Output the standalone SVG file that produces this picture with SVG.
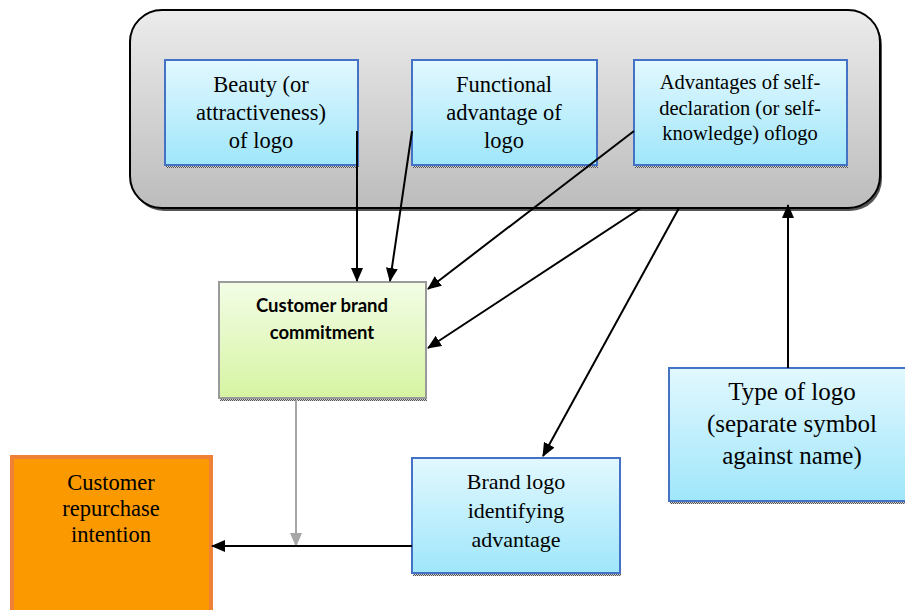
<svg xmlns="http://www.w3.org/2000/svg" width="905" height="610" viewBox="0 0 905 610">
  <defs>
    <linearGradient id="gGrey" x1="0" y1="0" x2="0" y2="1">
      <stop offset="0" stop-color="#ececec"/>
      <stop offset="1" stop-color="#bcbcbc"/>
    </linearGradient>
    <linearGradient id="gBlue" x1="0" y1="0" x2="0" y2="1">
      <stop offset="0" stop-color="#e2f8fe"/>
      <stop offset="1" stop-color="#9fe6fb"/>
    </linearGradient>
    <linearGradient id="gGreen" x1="0" y1="0" x2="0" y2="1">
      <stop offset="0" stop-color="#f3fde6"/>
      <stop offset="1" stop-color="#d6f4a2"/>
    </linearGradient>
    <pattern id="dots" width="2" height="2" patternUnits="userSpaceOnUse">
      <rect width="2" height="2" fill="#d0d0d0"/>
      <rect width="1" height="1" fill="#555"/>
      <rect x="1" y="1" width="1" height="1" fill="#555"/>
    </pattern>
    <marker id="ah" markerWidth="14" markerHeight="12" refX="13" refY="6" orient="auto" markerUnits="userSpaceOnUse">
      <path d="M0,0 L14,6 L0,12 Z" fill="#000"/>
    </marker>
    <marker id="ahGrey" markerWidth="14" markerHeight="12" refX="13" refY="6" orient="auto" markerUnits="userSpaceOnUse">
      <path d="M0,0 L14,6 L0,12 Z" fill="#a6a6a6"/>
    </marker>
  </defs>
  <style>
    .blue { fill: url(#gBlue); stroke: #4472c4; stroke-width: 2; }
    .shadow { fill: url(#dots); }
    .serif { font-family: "Liberation Serif", "Times New Roman", serif; fill: #000; text-anchor: middle; }
    .sans { font-family: Lato, "Open Sans", "Liberation Sans", sans-serif; font-weight: bold; fill: #000; text-anchor: middle; }
    .conn { stroke: #000; stroke-width: 2; fill: none; marker-end: url(#ah); }
    .connGrey { stroke: #a6a6a6; stroke-width: 2; fill: none; marker-end: url(#ahGrey); }
  </style>

  <rect width="905" height="610" fill="#fff"/>

  <!-- container for the three logo attributes -->
  <g id="container">
    <rect x="132" y="13" width="750" height="198" rx="32" fill="#555"/>
    <rect x="130" y="10" width="750" height="198" rx="32" fill="url(#gGrey)" stroke="#000" stroke-width="2"/>
  </g>

  <g id="beauty">
    <rect class="shadow" x="166" y="164" width="193" height="4"/>
    <rect class="blue" x="165" y="60" width="193" height="105"/>
    <text class="serif" font-size="22.5"><tspan x="261" y="92">Beauty (or</tspan><tspan x="261" y="120">attractiveness)</tspan><tspan x="261" y="148">of logo</tspan></text>
  </g>

  <g id="functional">
    <rect class="shadow" x="413" y="164" width="185" height="4"/>
    <rect class="blue" x="412" y="60" width="185" height="105"/>
    <text class="serif" font-size="22.5"><tspan x="504" y="92">Functional</tspan><tspan x="504" y="120">advantage of</tspan><tspan x="504" y="148">logo</tspan></text>
  </g>

  <g id="self-declaration">
    <rect class="shadow" x="635" y="164" width="213" height="4"/>
    <rect class="blue" x="634" y="60" width="213" height="105"/>
    <text class="serif" font-size="20.5"><tspan x="740" y="89">Advantages of self-</tspan><tspan x="740" y="115">declaration (or self-</tspan><tspan x="740" y="140">knowledge) oflogo</tspan></text>
  </g>

  <g id="commitment">
    <rect class="shadow" x="220" y="397" width="207" height="4"/>
    <rect x="219" y="282" width="207" height="116" fill="url(#gGreen)" stroke="#9a9a9a" stroke-width="2"/>
    <text class="sans" font-size="18.5"><tspan x="322" y="312">Customer brand</tspan><tspan x="322" y="339">commitment</tspan></text>
  </g>

  <g id="repurchase">
    <rect x="12" y="457" width="199" height="160" fill="#fb9900" stroke="#ef8136" stroke-width="4"/>
    <text class="serif" font-size="22.5"><tspan x="111" y="490">Customer</tspan><tspan x="111" y="516">repurchase</tspan><tspan x="111" y="542">intention</tspan></text>
  </g>

  <g id="identifying">
    <rect class="shadow" x="413" y="572" width="208" height="4"/>
    <rect class="blue" x="412" y="458" width="208" height="115"/>
    <text class="serif" font-size="22"><tspan x="516" y="489">Brand logo</tspan><tspan x="516" y="518">identifying</tspan><tspan x="516" y="547">advantage</tspan></text>
  </g>

  <g id="logo-type">
    <rect class="shadow" x="670" y="500" width="240" height="4"/>
    <rect class="blue" x="669" y="368" width="240" height="133"/>
    <text class="serif" font-size="25"><tspan x="792" y="400">Type of logo</tspan><tspan x="792" y="432">(separate symbol</tspan><tspan x="792" y="464">against name)</tspan></text>
  </g>

  <g id="connectors">
    <line class="conn" x1="357" y1="131" x2="357" y2="281"/>
    <line class="conn" x1="412" y1="131" x2="390" y2="281"/>
    <line class="conn" x1="634" y1="131" x2="428" y2="289"/>
    <line class="conn" x1="641" y1="208" x2="428" y2="348"/>
    <line class="conn" x1="679" y1="208" x2="543" y2="456"/>
    <line class="conn" x1="788" y1="368" x2="788" y2="205"/>
    <line class="connGrey" x1="296" y1="400" x2="296" y2="546"/>
    <line class="conn" x1="412" y1="546" x2="212" y2="546"/>
  </g>
</svg>
